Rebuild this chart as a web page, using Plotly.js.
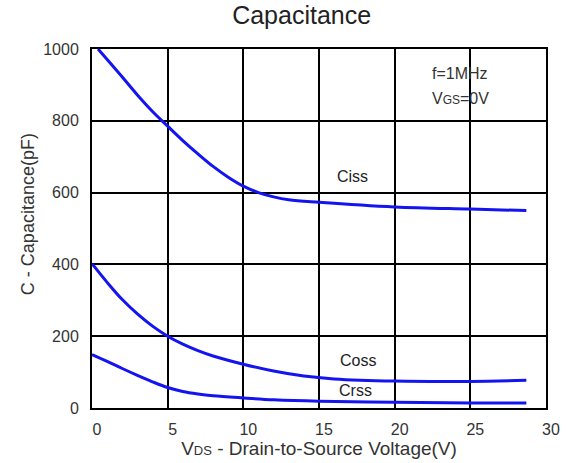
<!DOCTYPE html>
<html>
<head>
<meta charset="utf-8">
<script src="https://cdn.plot.ly/plotly-3.0.1.min.js"></script>
<style>html,body{margin:0;padding:0;background:#fff;}#chart{width:567px;height:463px;}</style>
</head>
<body>
<div id="chart"></div>
<script>
// Data (Vds in V, capacitance in pF)
const cissV = [0.4, 2, 3, 4, 5, 6, 7, 8, 9, 10, 11, 12, 13, 15, 20, 25, 28.7];
const cissC = [1000, 922, 872, 826, 785, 745, 708, 673, 643, 618, 600, 588, 580, 573, 560, 554, 550];
const cossV = [0, 1, 2, 3, 4, 5, 6, 7, 8, 10, 12, 14, 16, 20, 25, 28.7];
const cossC = [402, 350, 302, 262, 228, 200, 178, 160, 145, 122, 103, 89, 81, 75, 74, 77];
const crssV = [0, 1, 2, 3, 4, 5, 6, 7, 8, 10, 12, 15, 20, 25, 28.7];
const crssC = [149, 130, 110, 91, 73, 57, 46, 39, 34, 28, 23, 19, 16, 14, 14];
const xTicks = [0, 5, 10, 15, 20, 25, 30];
const yTicks = [0, 200, 400, 600, 800, 1000];
const seriesLabels = [
  {name: 'Ciss', x: 17.2, y: 646},
  {name: 'Coss', x: 17.6, y: 133},
  {name: 'Crss', x: 17.4, y: 49}
];

const lineStyle = {color: '#1414f0', width: 3, shape: 'spline', smoothing: 1};
const traces = [
  {x: cissV, y: cissC, name: 'Ciss'},
  {x: cossV, y: cossC, name: 'Coss'},
  {x: crssV, y: crssC, name: 'Crss'}
].map(t => Object.assign(t, {type: 'scatter', mode: 'lines', line: lineStyle, hoverinfo: 'skip'}));

const font = 'Liberation Sans, Arial, sans-serif';
const annotations = seriesLabels.map(l => ({
  x: l.x, y: l.y, xref: 'x', yref: 'y', text: l.name, showarrow: false,
  font: {family: font, size: 16, color: '#222'}
}));
annotations.push({
  xref: 'paper', yref: 'paper', x: 0.745, y: 0.933, xanchor: 'left', yanchor: 'middle',
  text: "f=1MHz", showarrow: false, align: 'left',
  font: {family: font, size: 16, color: '#333'}
});
annotations.push({
  xref: 'paper', yref: 'paper', x: 0.745, y: 0.862, xanchor: 'left', yanchor: 'middle',
  text: "V<span style='font-size:12px'>GS</span>=0V", showarrow: false, align: 'left',
  font: {family: font, size: 16, color: '#333'}
});
annotations.push({
  xref: 'paper', yref: 'paper', x: 0, y: 0.54, xshift: -76, textangle: -90,
  text: 'C - Capacitance(pF)', showarrow: false,
  font: {family: font, size: 18, color: '#333'}
});

const layout = {
  width: 567, height: 463,
  margin: {l: 92, r: 21, t: 49, b: 55},
  paper_bgcolor: '#fff', plot_bgcolor: '#fff',
  showlegend: false,
  title: {text: 'Capacitance', font: {family: font, size: 25, color: '#222'}, xref: 'container', x: 0.532, y: 0.985, yanchor: 'top'},
  xaxis: {
    range: [0, 30], tickvals: xTicks, ticktext: xTicks.map(String), ticks: '',
    showgrid: true, gridcolor: '#000', gridwidth: 2,
    showline: true, linecolor: '#000', linewidth: 2, mirror: true, zeroline: false,
    tickfont: {family: font, size: 16, color: '#333'}, ticklabelshift: 5, ticklabelstandoff: 6,
    title: {text: "V<span style='font-size:13px'>DS</span> - Drain-to-Source Voltage(V)", font: {family: font, size: 19, color: '#333'}, standoff: 0}
  },
  yaxis: {
    range: [0, 1000], tickvals: yTicks, ticktext: yTicks.map(String), ticks: '',
    showgrid: true, gridcolor: '#000', gridwidth: 2,
    showline: true, linecolor: '#000', linewidth: 2, mirror: true, zeroline: false,
    tickfont: {family: font, size: 16, color: '#333'}, ticklabelstandoff: 8
  },
  annotations: annotations
};

Plotly.newPlot('chart', traces, layout, {displayModeBar: false, staticPlot: true});
</script>
</body>
</html>
